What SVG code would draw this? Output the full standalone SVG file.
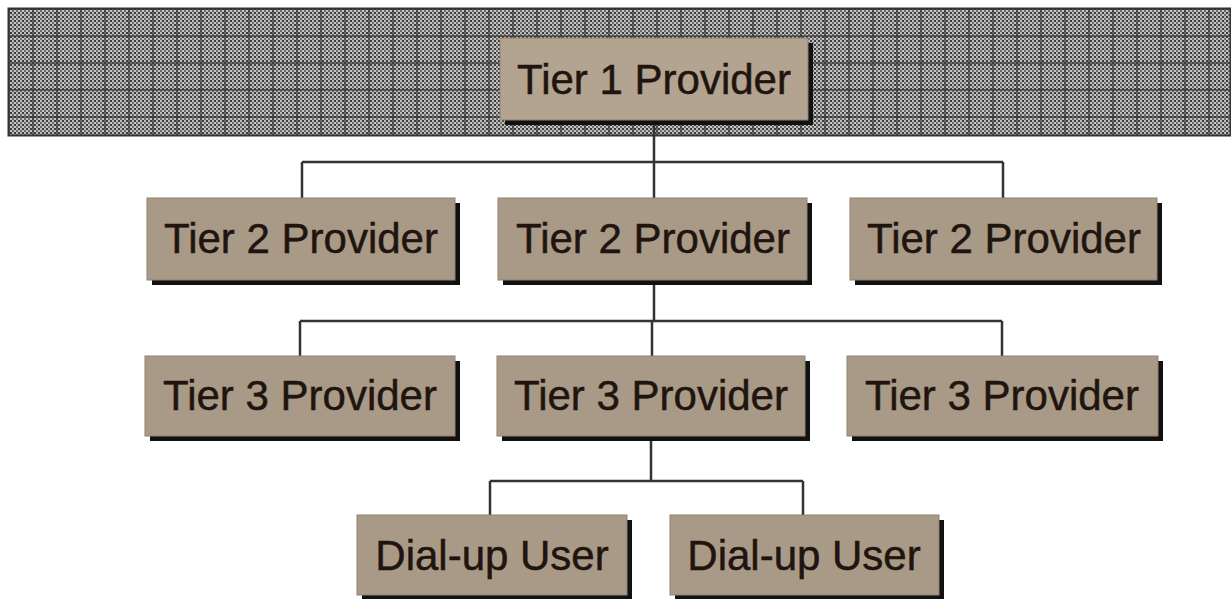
<svg xmlns="http://www.w3.org/2000/svg" width="1231" height="599" viewBox="0 0 1231 599">
  <defs>
    <pattern id="dots" width="4" height="4" patternUnits="userSpaceOnUse">
      <rect width="4" height="4" fill="#6a6a6a"/>
      <rect x="0" y="0" width="2" height="2" fill="#bcbcbc"/>
      <rect x="2" y="2" width="2" height="2" fill="#c4c4c4"/>
      <rect x="2" y="0" width="2" height="2" fill="#3c3c3c"/>
    </pattern>
    <pattern id="grid" width="24" height="27" patternUnits="userSpaceOnUse" x="8" y="8">
      <rect x="0" y="0" width="2" height="27" fill="#2e2e2e" opacity="0.6"/>
      <rect x="0" y="0" width="24" height="2" fill="#2e2e2e" opacity="0.6"/>
    </pattern>
    <style>
      .box { fill: #a99a88; stroke: #8f8271; stroke-width: 1; }
      .box1 { fill: #b3a391; stroke: #8f8271; stroke-width: 1; }
      .shadow { fill: #111; }
      .lbl { font-family: "Liberation Sans", Arial, sans-serif; font-size: 42px; fill: #1f150e; stroke: #1f150e; stroke-width: 0.5; text-anchor: middle; }
      .conn { fill: none; stroke: #333; stroke-width: 2.5; }
    </style>
  </defs>
  <rect width="1231" height="599" fill="#ffffff"/>
  <g id="band">
    <rect x="8" y="8" width="1223" height="128" fill="url(#dots)"/>
    <rect x="8" y="8" width="1223" height="128" fill="url(#grid)"/>
    <rect x="8.5" y="8.5" width="1222" height="127" fill="none" stroke="#333" stroke-width="2"/>
  </g>
  <g id="connectors">
    <path class="conn" d="M654 124 V162 M302 162 H1003 M302 162 V198 M654 162 V198 M1003 162 V198"/>
    <path class="conn" d="M654 284 V321 M300 321 H1002 M300 321 V356 M652 321 V356 M1002 321 V356"/>
    <path class="conn" d="M651 441 V481 M490 481 H803 M490 481 V515 M803 481 V515"/>
  </g>
  <g id="tier1">
    <rect class="shadow" x="505" y="43" width="308" height="82"/>
    <rect class="box1" x="500" y="38" width="308" height="82"/>
    <text class="lbl" x="654" y="94">Tier 1 Provider</text>
  </g>
  <g id="tier2-left">
    <rect class="shadow" x="152" y="203" width="308" height="82"/>
    <rect class="box" x="147" y="198" width="308" height="82"/>
    <text class="lbl" x="301" y="253">Tier 2 Provider</text>
  </g>
  <g id="tier2-mid">
    <rect class="shadow" x="503" y="203" width="309" height="82"/>
    <rect class="box" x="498" y="198" width="309" height="82"/>
    <text class="lbl" x="653" y="253">Tier 2 Provider</text>
  </g>
  <g id="tier2-right">
    <rect class="shadow" x="855" y="203" width="307" height="82"/>
    <rect class="box" x="850" y="198" width="307" height="82"/>
    <text class="lbl" x="1004" y="253">Tier 2 Provider</text>
  </g>
  <g id="tier3-left">
    <rect class="shadow" x="150" y="361" width="310" height="80"/>
    <rect class="box" x="145" y="356" width="310" height="80"/>
    <text class="lbl" x="300" y="410">Tier 3 Provider</text>
  </g>
  <g id="tier3-mid">
    <rect class="shadow" x="502" y="361" width="308" height="80"/>
    <rect class="box" x="497" y="356" width="308" height="80"/>
    <text class="lbl" x="651" y="410">Tier 3 Provider</text>
  </g>
  <g id="tier3-right">
    <rect class="shadow" x="852" y="361" width="311" height="80"/>
    <rect class="box" x="847" y="356" width="311" height="80"/>
    <text class="lbl" x="1002" y="410">Tier 3 Provider</text>
  </g>
  <g id="dialup-left">
    <rect class="shadow" x="362" y="520" width="270" height="80"/>
    <rect class="box" x="357" y="515" width="270" height="80"/>
    <text class="lbl" x="492" y="570">Dial-up User</text>
  </g>
  <g id="dialup-right">
    <rect class="shadow" x="675" y="520" width="269" height="80"/>
    <rect class="box" x="670" y="515" width="269" height="80"/>
    <text class="lbl" x="804" y="570">Dial-up User</text>
  </g>
</svg>
